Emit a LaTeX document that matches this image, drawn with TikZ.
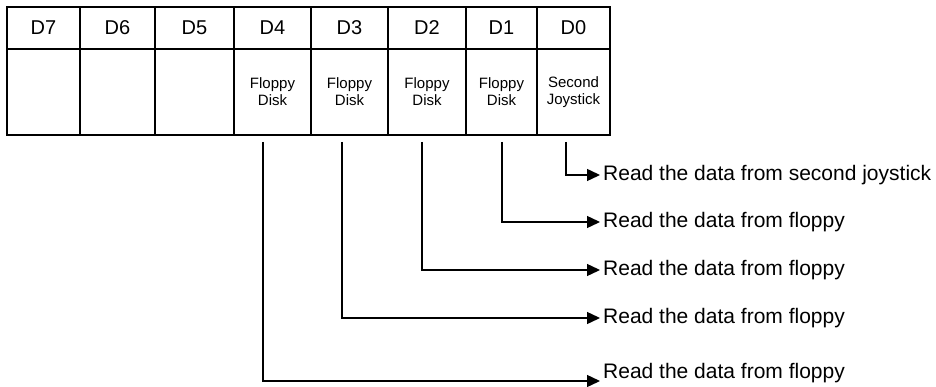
\documentclass[tikz,border=0pt]{standalone}
\usepackage{fontspec}
\setmainfont{Liberation Sans}
\usetikzlibrary{arrows.meta,positioning}

\begin{document}
\begin{tikzpicture}[
  x=1pt, y=-1pt,
  hcell/.style={draw, line width=1.8pt, outer sep=0pt, inner sep=0pt,
                minimum height=42pt, font=\fontsize{20}{24}\selectfont},
  bcell/.style={draw, line width=1.8pt, outer sep=0pt, inner sep=0pt,
                minimum height=86pt, align=center, font=\fontsize{15}{17}\selectfont},
  link/.style={-{Triangle[length=13pt,width=12pt]}, line width=1.4pt},
  lbl/.style={anchor=west, inner sep=3pt, font=\fontsize{21}{24}\selectfont},
]
  \useasboundingbox (0,0) rectangle (936,387);

  %% Register bits, header row
  \node[hcell, minimum width=73pt] (h7) at (43.5,28) {D7};
  \node[hcell, minimum width=75pt, right=0pt of h7] (h6) {D6};
  \node[hcell, minimum width=79pt, right=0pt of h6] (h5) {D5};
  \node[hcell, minimum width=77pt, right=0pt of h5] (h4) {D4};
  \node[hcell, minimum width=77pt, right=0pt of h4] (h3) {D3};
  \node[hcell, minimum width=78pt, right=0pt of h3] (h2) {D2};
  \node[hcell, minimum width=71pt, right=0pt of h2] (h1) {D1};
  \node[hcell, minimum width=73pt, right=0pt of h1] (h0) {D0};

  %% Register bits, function row
  \node[bcell, minimum width=73pt, below=0pt of h7] (b7) {};
  \node[bcell, minimum width=75pt, below=0pt of h6] (b6) {};
  \node[bcell, minimum width=79pt, below=0pt of h5] (b5) {};
  \node[bcell, minimum width=77pt, below=0pt of h4] (b4) {Floppy\\Disk};
  \node[bcell, minimum width=77pt, below=0pt of h3] (b3) {Floppy\\Disk};
  \node[bcell, minimum width=78pt, below=0pt of h2] (b2) {Floppy\\Disk};
  \node[bcell, minimum width=71pt, below=0pt of h1] (b1) {Floppy\\Disk};
  \node[bcell, minimum width=73pt, below=0pt of h0] (b0) {Second\\Joystick};

  %% Start of each line, just under the table
  \coordinate (s0) at (566,142);
  \coordinate (s1) at (502,142);
  \coordinate (s2) at (422,142);
  \coordinate (s3) at (342,142);
  \coordinate (s4) at (263,142);

  %% What each bit does
  \node[lbl] (l0) at (600,175) {Read the data from second joystick};
  \node[lbl] (l1) at (600,222) {Read the data from floppy};
  \node[lbl] (l2) at (600,270) {Read the data from floppy};
  \node[lbl] (l3) at (600,318) {Read the data from floppy};
  \node[lbl] (l4) at (600,373) {Read the data from floppy};

  \draw[link] (s0) |- (l0.west);
  \draw[link] (s1) |- (l1.west);
  \draw[link] (s2) |- (l2.west);
  \draw[link] (s3) |- (l3.west);
  \draw[link] (s4) |- ([yshift=-8pt]l4.west);

\end{tikzpicture}
\end{document}
